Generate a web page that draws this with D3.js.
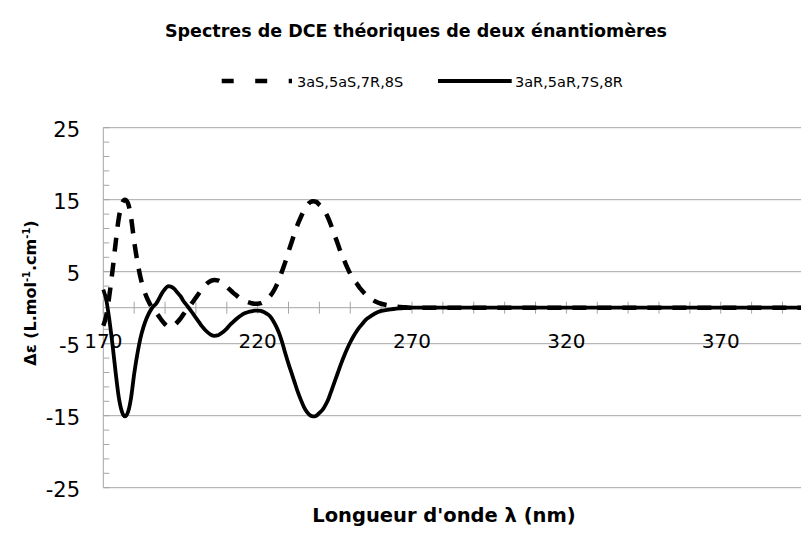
<!DOCTYPE html>
<html>
<head>
<meta charset="utf-8">
<script src="https://cdn.jsdelivr.net/npm/d3@7"></script>
<style>
  html, body { margin: 0; padding: 0; background: #fff; }
  svg { display: block; font-family: "DejaVu Sans", sans-serif; }
</style>
</head>
<body>
<svg id="chart" width="803" height="538"></svg>
<script>
// Wavelengths (nm)
const wavelengths = [
  170,171,172,173,174,175,176,177,178,179,180,181,182,183,184,185,186,187,188,189,
  190,191,192,193,194,195,196,197,198,199,200,201,202,203,204,205,206,207,208,209,
  210,211,212,213,214,215,216,217,218,219,220,221,222,223,224,225,226,227,228,229,
  230,231,232,233,234,235,236,237,238,239,240,241,242,243,244,245,246,247,248,249,
  250,251,252,253,254,255,256,258,260,262,264,266,268,270,280,290,300,310,320,330,
  340,350,360,370,380,390,396
];

// Δε of the 3aS,5aS,7R,8S enantiomer
const seriesS = [
  -2.5,-1.0,1.8,5.2,9.0,12.4,14.4,15.0,14.5,12.5,9.2,6.5,4.3,2.7,1.5,0.6,-0.1,-0.6,-1.2,-1.8,
  -2.3,-2.6,-2.6,-2.4,-2.0,-1.5,-0.9,-0.3,0.2,0.8,1.4,2.0,2.6,3.1,3.5,3.75,3.85,3.8,3.6,3.3,
  2.9,2.5,2.1,1.75,1.4,1.1,0.9,0.75,0.62,0.55,0.55,0.62,0.85,1.15,1.6,2.2,3.0,4.0,5.2,6.4,
  7.8,9.1,10.4,11.6,12.6,13.5,14.2,14.65,14.8,14.7,14.3,13.9,13.2,12.3,11.2,10.0,8.8,7.6,6.6,5.6,
  4.7,3.9,3.4,2.8,2.3,1.85,1.5,0.9,0.55,0.35,0.2,0.1,0.05,0,0,0,0,0,0,0,
  0,0,0,0,0,0,0
];

// Δε of the 3aR,5aR,7S,8R enantiomer
const seriesR = [
  2.5,1.0,-1.8,-5.2,-9.0,-12.4,-14.4,-15.1,-14.5,-12.5,-9.2,-6.5,-4.3,-2.7,-1.5,-0.6,0.1,0.5,1.2,2.0,
  2.6,3.0,2.9,2.6,2.1,1.6,0.9,0.35,-0.2,-0.8,-1.4,-2.0,-2.6,-3.1,-3.5,-3.8,-3.9,-3.85,-3.6,-3.3,
  -2.9,-2.4,-2.0,-1.6,-1.25,-0.95,-0.75,-0.6,-0.5,-0.42,-0.4,-0.45,-0.6,-0.85,-1.2,-1.8,-2.6,-3.6,-4.9,-6.4,
  -7.8,-9.1,-10.4,-11.7,-12.8,-13.8,-14.5,-14.95,-15.1,-15.0,-14.6,-14.2,-13.5,-12.6,-11.4,-10.2,-9.0,-7.8,-6.7,-5.7,
  -4.8,-4.0,-3.3,-2.7,-2.2,-1.7,-1.35,-0.8,-0.45,-0.3,-0.18,-0.1,-0.05,0,0,0,0,0,0,0,
  0,0,0,0,0,0,0
];

const seriesNames = ["3aS,5aS,7R,8S", "3aR,5aR,7S,8R"];
const yTicks = [-25, -15, -5, 5, 15, 25];
const xLabelTicks = [170, 220, 270, 320, 370];
const xMinorTicks = d3.range(170, 391, 10);
const yMinorTicks = d3.range(-25, 26, 2);

const svg = d3.select("#chart");
const gridColor = "#a6a6a6";

const x = d3.scaleLinear().domain([170, 396]).range([103.3, 801]);
const y = d3.scaleLinear().domain([-25, 25]).range([487.7, 127.7]);

// Horizontal gridlines
svg.append("g")
  .selectAll("line")
  .data(yTicks)
  .join("line")
  .attr("x1", x(170)).attr("x2", x(396))
  .attr("y1", d => y(d)).attr("y2", d => y(d))
  .attr("stroke", gridColor).attr("stroke-width", 1);

// Vertical axis with minor ticks
const yAxisG = svg.append("g");
yAxisG.append("line")
  .attr("x1", x(170)).attr("x2", x(170))
  .attr("y1", y(25)).attr("y2", y(-25))
  .attr("stroke", gridColor).attr("stroke-width", 1);
yAxisG.selectAll("line.minor")
  .data(yMinorTicks)
  .join("line")
  .attr("class", "minor")
  .attr("x1", x(170)).attr("x2", x(170) + 6)
  .attr("y1", d => y(d)).attr("y2", d => y(d))
  .attr("stroke", gridColor).attr("stroke-width", 1);

// Y tick labels
svg.append("g")
  .selectAll("text")
  .data(yTicks)
  .join("text")
  .attr("x", 80)
  .attr("y", d => y(d) + 2)
  .attr("text-anchor", "end")
  .attr("dominant-baseline", "central")
  .attr("font-size", 21)
  .attr("fill", "#000")
  .text(d => d);

// Horizontal axis at zero with crossing ticks
const xAxisG = svg.append("g");
xAxisG.append("line")
  .attr("x1", x(170)).attr("x2", x(396))
  .attr("y1", y(0)).attr("y2", y(0))
  .attr("stroke", gridColor).attr("stroke-width", 1);
xAxisG.selectAll("line.tick")
  .data(xMinorTicks)
  .join("line")
  .attr("class", "tick")
  .attr("x1", d => x(d)).attr("x2", d => x(d))
  .attr("y1", y(0) - 6).attr("y2", y(0) + 6)
  .attr("stroke", gridColor).attr("stroke-width", 1);

// X tick labels
svg.append("g")
  .selectAll("text")
  .data(xLabelTicks)
  .join("text")
  .attr("x", d => x(d))
  .attr("y", 341)
  .attr("text-anchor", "middle")
  .attr("dominant-baseline", "central")
  .attr("font-size", 20)
  .attr("fill", "#000")
  .text(d => d);

// Spectra
const points = s => wavelengths.map((w, i) => [w, s[i]]);
const line = d3.line()
  .x(d => x(d[0]))
  .y(d => y(d[1]))
  .curve(d3.curveMonotoneX);

svg.append("path")
  .datum(points(seriesS))
  .attr("d", line)
  .attr("fill", "none")
  .attr("stroke", "#000")
  .attr("stroke-width", 4.5)
  .attr("stroke-dasharray", "14,11");

svg.append("path")
  .datum(points(seriesR))
  .attr("d", line)
  .attr("fill", "none")
  .attr("stroke", "#000")
  .attr("stroke-width", 3.8)
  .attr("stroke-linejoin", "round");

// Title
svg.append("text")
  .attr("x", 416).attr("y", 37)
  .attr("text-anchor", "middle")
  .attr("font-size", 17.5)
  .attr("font-weight", "bold")
  .text("Spectres de DCE théoriques de deux énantiomères");

// Legend
const legend = svg.append("g");
legend.append("line")
  .attr("x1", 221.7).attr("x2", 292).attr("y1", 81).attr("y2", 81)
  .attr("stroke", "#000").attr("stroke-width", 4.5)
  .attr("stroke-dasharray", "12,21.5");
legend.append("text")
  .attr("x", 297).attr("y", 87)
  .attr("font-size", 14.5)
  .text(seriesNames[0]);
legend.append("line")
  .attr("x1", 438).attr("x2", 511.7).attr("y1", 81).attr("y2", 81)
  .attr("stroke", "#000").attr("stroke-width", 3.8);
legend.append("text")
  .attr("x", 515).attr("y", 87)
  .attr("font-size", 14.5)
  .text(seriesNames[1]);

// Axis titles
svg.append("text")
  .attr("x", 444).attr("y", 522)
  .attr("text-anchor", "middle")
  .attr("font-size", 19.5)
  .attr("font-weight", "bold")
  .text("Longueur d'onde λ (nm)");

const yTitle = svg.append("text")
  .attr("transform", "translate(36,293) rotate(-90)")
  .attr("text-anchor", "middle")
  .attr("font-size", 16)
  .attr("font-weight", "bold");
yTitle.append("tspan").text("Δε (L.mol");
yTitle.append("tspan").attr("font-size", 10).attr("dy", -6).text("-1");
yTitle.append("tspan").attr("dy", 6).text(".cm");
yTitle.append("tspan").attr("font-size", 10).attr("dy", -6).text("-1");
yTitle.append("tspan").attr("dy", 6).text(")");
</script>
</body>
</html>
